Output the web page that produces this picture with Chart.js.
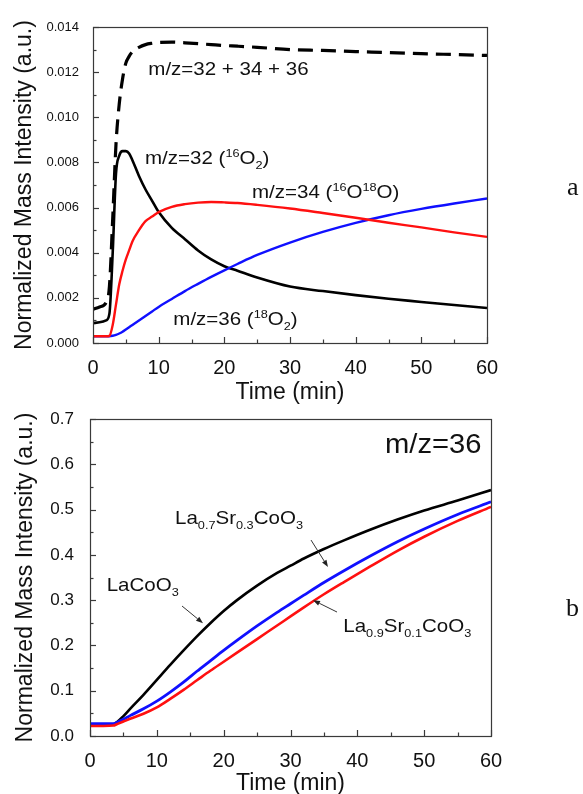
<!DOCTYPE html>
<html><head><meta charset="utf-8">
<script src="https://cdn.jsdelivr.net/npm/chart.js@4.4.1/dist/chart.umd.min.js"></script>
<style>
html,body{margin:0;padding:0;background:#fff;overflow:hidden;width:583px;height:794px}
canvas{position:absolute;left:0;top:0}
</style></head>
<body>
<canvas id="c1" width="583" height="830"></canvas>
<canvas id="c2" width="583" height="830"></canvas>
<script>
// ---------- Panel a data ----------
const tTop = [0,1,2,2.5,3,3.5,4,4.5,5,5.5,6,7,8,9,10,12,14,16,18,20,22,25,30,35,40,45,50,55,60];
const sum323436 = [0.0015,0.0016,0.0018,0.0025,0.0055,0.0088,0.0106,0.0117,0.0124,0.0127,0.0129,0.0131,0.01322,0.01328,0.01332,0.01333,0.0133,0.01326,0.01322,0.01318,0.01315,0.0131,0.0130,0.01296,0.01291,0.01287,0.01282,0.01278,0.01274];
const mz32 = [0.00088,0.00092,0.00100,0.0013,0.0040,0.0075,0.0083,0.0085,0.0085,0.0084,0.0081,0.0074,0.0068,0.0063,0.0058,0.0051,0.0046,0.0041,0.0037,0.0034,0.0032,0.0029,0.0025,0.0023,0.00212,0.00196,0.00182,0.00168,0.00155];
const mz34 = [0.0003,0.0003,0.0003,0.00032,0.0008,0.0017,0.0026,0.0032,0.0037,0.0041,0.0045,0.0050,0.0054,0.0056,0.0058,0.00603,0.00615,0.00622,0.00625,0.00623,0.0062,0.00612,0.00596,0.00576,0.00555,0.00533,0.00512,0.0049,0.0047];
const mz36 = [0.0003,0.0003,0.0003,0.0003,0.00032,0.00036,0.00042,0.0005,0.0006,0.0007,0.0008,0.0010,0.0012,0.0014,0.0016,0.00195,0.0023,0.00262,0.00293,0.00322,0.0035,0.0039,0.00445,0.00492,0.00532,0.00566,0.00594,0.00618,0.0064];
const xTicksTop = [0,10,20,30,40,50,60];
const yTicksTop = [0,0.002,0.004,0.006,0.008,0.010,0.012,0.014];

// ---------- Panel b data ----------
const tBot = [0,2,3.5,4,5,6,8,10,12,14,16,18,20,22,25,28,30,32,35,38,42,46,50,55,60];
const laCoO3 = [0.025,0.025,0.026,0.030,0.044,0.060,0.091,0.124,0.157,0.189,0.220,0.249,0.276,0.300,0.332,0.360,0.376,0.392,0.413,0.432,0.456,0.478,0.498,0.520,0.543];
const la07sr03 = [0.027,0.027,0.027,0.030,0.037,0.045,0.060,0.077,0.097,0.119,0.143,0.166,0.189,0.211,0.243,0.273,0.292,0.311,0.339,0.365,0.398,0.429,0.457,0.489,0.517];
const la09sr01 = [0.022,0.022,0.023,0.026,0.032,0.038,0.049,0.063,0.082,0.102,0.123,0.144,0.164,0.184,0.214,0.244,0.264,0.284,0.313,0.340,0.375,0.409,0.440,0.475,0.506];
const xTicksBot = [0,10,20,30,40,50,60];
const yTicksBot = [0,0.1,0.2,0.3,0.4,0.5,0.6,0.7];

// ---------- annotations (data coordinates) ----------
const notesTop = [
  {x:8.42, y:0.01186, segs:[{t:'m/z=32 + 34 + 36'}]},
  {x:7.92, y:0.00792, segs:[{t:'m/z=32 ('},{t:'16',k:'sup'},{t:'O'},{t:'2',k:'sub'},{t:')'}]},
  {x:24.21, y:0.00642, segs:[{t:'m/z=34 ('},{t:'16',k:'sup'},{t:'O'},{t:'18',k:'sup'},{t:'O)'}]},
  {x:12.23, y:0.00080, segs:[{t:'m/z=36 ('},{t:'18',k:'sup'},{t:'O'},{t:'2',k:'sub'},{t:')'}]}
];
const notesBot = [
  {x:44.14, y:0.6247, size:27, segs:[{t:'m/z=36'}]},
  {x:12.72, y:0.468, segs:[{t:'La'},{t:'0.7',k:'sub'},{t:'Sr'},{t:'0.3',k:'sub'},{t:'CoO'},{t:'3',k:'sub'}]},
  {x:2.5, y:0.3207, segs:[{t:'LaCoO'},{t:'3',k:'sub'}]},
  {x:37.9, y:0.2302, segs:[{t:'La'},{t:'0.9',k:'sub'},{t:'Sr'},{t:'0.1',k:'sub'},{t:'CoO'},{t:'3',k:'sub'}]}
];
const arrowsBot = [
  {from:[13.77,0.287], to:[16.91,0.249]},
  {from:[33.07,0.4327], to:[35.61,0.373]},
  {from:[36.96,0.2737], to:[33.37,0.300]}
];

const SANS = '"Liberation Sans", Arial, sans-serif';

function pts(t, v){ return t.map((x,i)=>({x:x, y:v[i]})); }

function richText(ctx, x, y, segs, size, hs){
  ctx.save();
  ctx.translate(x, y);
  ctx.scale(hs, 1);
  let cx = 0;
  segs.forEach(s=>{
    let fs = size, dy = 0;
    if (s.k==='sup'){ fs = size*0.62; dy = -size*0.36; }
    if (s.k==='sub'){ fs = size*0.62; dy = size*0.26; }
    ctx.font = fs+'px '+SANS;
    ctx.fillText(s.t, cx, dy);
    cx += ctx.measureText(s.t).width;
  });
  ctx.restore();
}

const deco = {
  id:'deco',
  afterDatasetsDraw(chart, args, o){
    const ctx = chart.ctx, a = chart.chartArea, xs = chart.scales.x, ys = chart.scales.y;
    ctx.save();
    ctx.strokeStyle = '#3a3a3a'; ctx.lineWidth = 1.2;
    ctx.strokeRect(Math.round(a.left)+0.5, Math.round(a.top)+0.5, Math.round(a.right-a.left), Math.round(a.bottom-a.top));
    const tick = (x1,y1,x2,y2)=>{ ctx.beginPath(); ctx.moveTo(x1,y1); ctx.lineTo(x2,y2); ctx.stroke(); };
    const xt = o.xTicks, yt = o.yTicks;
    xt.forEach((v,i)=>{
      const p = Math.round(xs.getPixelForValue(v))+0.5;
      tick(p, a.bottom, p, a.bottom-6);
      if (i<xt.length-1){ const m = Math.round(xs.getPixelForValue((v+xt[i+1])/2))+0.5; tick(m,a.bottom,m,a.bottom-3.5); }
    });
    yt.forEach((v,i)=>{
      const p = Math.round(ys.getPixelForValue(v))+0.5;
      tick(a.left, p, a.left+6, p);
      if (i<yt.length-1){ const m = Math.round(ys.getPixelForValue((v+yt[i+1])/2))+0.5; tick(a.left,m,a.left+3.5,m); }
    });
    // arrows
    ctx.strokeStyle = '#333'; ctx.fillStyle = '#222'; ctx.lineWidth = 1;
    (o.arrows||[]).forEach(ar=>{
      const x1 = xs.getPixelForValue(ar.from[0]), y1 = ys.getPixelForValue(ar.from[1]);
      const x2 = xs.getPixelForValue(ar.to[0]), y2 = ys.getPixelForValue(ar.to[1]);
      const ang = Math.atan2(y2-y1, x2-x1), L = 7, W = 2.6;
      const bx = x2 - L*Math.cos(ang), by = y2 - L*Math.sin(ang);
      tick(x1,y1,bx,by);
      ctx.beginPath(); ctx.moveTo(x2,y2);
      ctx.lineTo(bx + W*Math.sin(ang), by - W*Math.cos(ang));
      ctx.lineTo(bx - W*Math.sin(ang), by + W*Math.cos(ang));
      ctx.closePath(); ctx.fill();
    });
    // notes
    ctx.fillStyle = '#111'; ctx.textAlign = 'left'; ctx.textBaseline = 'alphabetic';
    o.notes.forEach(n=>{
      richText(ctx, xs.getPixelForValue(n.x), ys.getPixelForValue(n.y), n.segs, n.size||o.noteSize, o.hs);
    });
    // panel letter
    ctx.font = '26px "Liberation Serif", "Times New Roman", serif';
    ctx.fillText(o.letter.t, o.letter.x, o.letter.y);
    ctx.restore();
  }
};

function makeChart(id, cfg){
  return new Chart(document.getElementById(id), {
    type:'line',
    data:{ datasets: cfg.datasets },
    options:{
      responsive:false, animation:false, devicePixelRatio:1,
      layout:{ padding: cfg.padding },
      plugins:{ legend:{display:false}, tooltip:{enabled:false}, deco: cfg.deco },
      elements:{ point:{radius:0}, line:{cubicInterpolationMode:'monotone'} },
      scales:{
        x:{ type:'linear', min:0, max:60,
            grid:{display:false}, border:{display:false},
            afterBuildTicks: s=>{ s.ticks = cfg.xTicks.map(v=>({value:v})); },
            afterFit: s=>{ s.height = cfg.xH; },
            ticks:{ padding:5, color:'#111', font:{family:SANS, size:20}, maxRotation:0 },
            title:{ display:true, text:'Time (min)', color:'#111', font:{family:SANS, size:23}, padding:{top:0,bottom:cfg.xTitlePad} } },
        y:{ type:'linear', min:cfg.yMin, max:cfg.yMax,
            grid:{display:false}, border:{display:false},
            afterBuildTicks: s=>{ s.ticks = cfg.yTicks.map(v=>({value:v})); },
            afterFit: s=>{ s.width = cfg.yW; },
            ticks:{ padding:cfg.yTickPad, color:'#111', font:{family:SANS, size:cfg.yTickSize},
                    callback: v=>Number(v).toFixed(cfg.yDec) },
            title:{ display:true, text:'Normalized Mass Intensity (a.u.)', color:'#111', font:{family:SANS, size:23}, padding:{top:cfg.yTitlePad,bottom:0} } }
      }
    },
    plugins:[deco]
  });
}

makeChart('c1', {
  datasets:[
    {data:pts(tTop,mz34), borderColor:'#ff1010', borderWidth:2.4},
    {data:pts(tTop,mz36), borderColor:'#1010ff', borderWidth:2.4},
    {data:pts(tTop,mz32), borderColor:'#000', borderWidth:2.6},
    {data:pts(tTop,sum323436), borderColor:'#000', borderWidth:3.2, borderDash:[15,8]}
  ],
  padding:{left:0, top:27, right:96, bottom:417},
  xTicks:xTicksTop, yTicks:yTicksTop, yMin:0, yMax:0.014, yDec:3,
  xH:70, yW:93, yTickPad:6, yTickSize:13, xTitlePad:7, yTitlePad:11,
  deco:{ xTicks:xTicksTop, yTicks:yTicksTop, notes:notesTop, noteSize:19, hs:1.08,
         letter:{t:'a', x:567, y:195} }
});

makeChart('c2', {
  datasets:[
    {data:pts(tBot,la09sr01), borderColor:'#ff1010', borderWidth:2.6},
    {data:pts(tBot,la07sr03), borderColor:'#1010ff', borderWidth:2.8},
    {data:pts(tBot,laCoO3), borderColor:'#000', borderWidth:2.6}
  ],
  padding:{left:0, top:419, right:92, bottom:32},
  xTicks:xTicksBot, yTicks:yTicksBot, yMin:0, yMax:0.7, yDec:1,
  xH:62, yW:90, yTickPad:8, yTickSize:17, xTitlePad:1, yTitlePad:12,
  deco:{ xTicks:xTicksBot, yTicks:yTicksBot, notes:notesBot, noteSize:19, hs:1.08, arrows:arrowsBot,
         letter:{t:'b', x:566, y:616} }
});
</script>
</body></html>
